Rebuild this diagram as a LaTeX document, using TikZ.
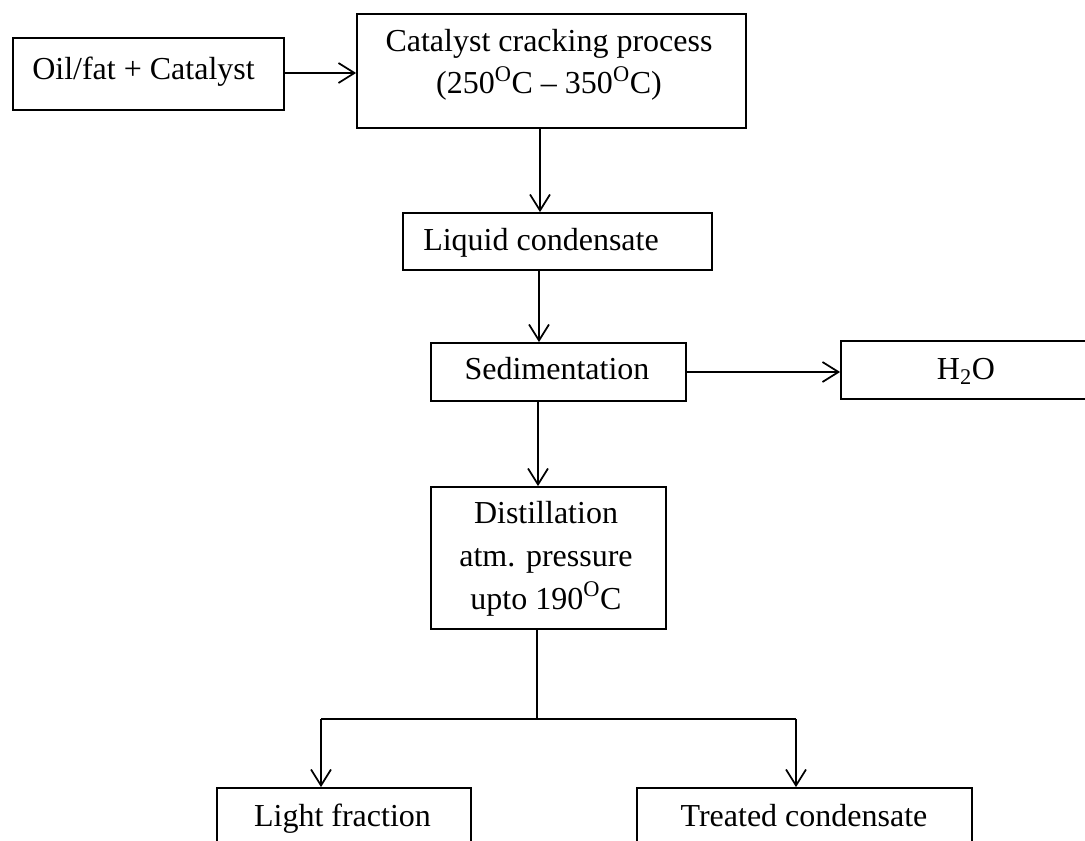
\documentclass[tikz,border=0pt]{standalone}
\usepackage{fontspec}
\setmainfont{Liberation Serif}
\usetikzlibrary{arrows.meta,calc}
\begin{document}
\begin{tikzpicture}[x=0.75pt,y=-0.75pt,
  box/.style 2 args={draw, line width=1.35pt, inner sep=0pt,
    minimum width=#1*0.75pt, minimum height=#2*0.75pt},
  txt/.style={font=\fontsize{24}{32}\selectfont, align=center, inner sep=0pt, anchor=base},
  conn/.style={line width=1.3pt},
  arr/.style={conn, -{Straight Barb[length=12pt,width=15pt,line width=1.3pt]}}]
\useasboundingbox (0,0) rectangle (1085,841);
\clip (0,0) rectangle (1085,841);
\fill[white] (0,0) rectangle (1085,841);
% boxes
\node[box={271}{72}] (oil) at (148.5,74) {};
\node[box={389}{114}] (crack) at (551.5,71) {};
\node[box={309}{57}] (liquid) at (557.5,241.5) {};
\node[box={255}{58}] (sed) at (558.5,372) {};
\node[box={250}{58}] (water) at (966,370) {};
\node[box={235}{142}] (dist) at (548.5,558) {};
\node[box={254}{112}] (light) at (344,844) {};
\node[box={335}{112}] (treated) at (804.5,844) {};
% texts
\node[txt] (toil) at (143.5,80) {Oil/fat + Catalyst};
\node[txt] (tcrack) at (549,94) {Catalyst cracking process\\(250\textsuperscript{O}C -- 350\textsuperscript{O}C)};
\node[txt] (tliquid) at (541,251) {Liquid condensate};
\node[txt] (tsed) at (557,380) {Sedimentation};
\node[txt] (twater) at (966,380) {H\textsubscript{2}O};
\node[txt] (tdist) at (546,609) {Distillation\\atm. pressure\\upto 190\textsuperscript{O}C};
\node[txt] (tlight) at (342.5,826) {Light fraction};
\node[txt] (ttreated) at (804,826) {Treated condensate};
% guide coordinates
\coordinate (c1) at (540,0);
\coordinate (c2) at (539,0);
\coordinate (c3) at (538,0);
\coordinate (c4) at (537,0);
\coordinate (split) at (537,719);
\coordinate (lx) at (321,0);
\coordinate (rx) at (796,0);
% connectors
\draw[arr] ($(oil.east)+(0,-1)$) -- ($(oil.east -| crack.west)+(0,-1)$);
\draw[arr] (crack.south -| c1) -- (liquid.north -| c1);
\draw[arr] (liquid.south -| c2) -- (sed.north -| c2);
\draw[arr] (sed.east) -- (sed.east -| water.west);
\draw[arr] (sed.south -| c3) -- (dist.north -| c3);
\draw[conn] (dist.south -| c4) -- (split);
\draw[conn] (split -| lx) -- (split -| rx);
\draw[arr] (split -| lx) -- (light.north -| lx);
\draw[arr] (split -| rx) -- (treated.north -| rx);
\end{tikzpicture}
\end{document}
